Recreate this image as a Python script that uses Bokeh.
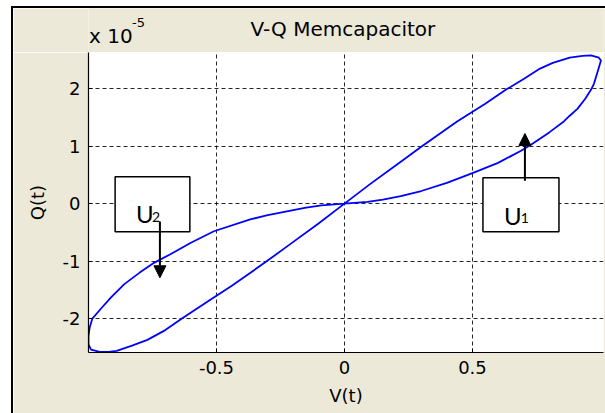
from bokeh.plotting import figure
from bokeh.layouts import column
from bokeh.models import FixedTicker, Arrow, NormalHead, Range1d
from bokeh.core.properties import value
from bokeh.embed import file_html
from bokeh.resources import INLINE

# Memcapacitor V-Q trajectory, charge in units of 1e-5
v_loop = [0.00, 0.10, 0.22, 0.30, 0.44, 0.55, 0.63, 0.70, 0.764, 0.814, 0.88, 0.93, 0.963,
          0.994, 1.002, 0.994, 0.975, 0.963, 0.94, 0.91, 0.88, 0.857, 0.80, 0.73, 0.69, 0.60, 0.50,
          0.40, 0.30, 0.22, 0.15, 0.09, 0.00,
          -0.09, -0.15, -0.22, -0.30, -0.365, -0.51, -0.60, -0.68, -0.744, -0.80, -0.86,
          -0.912, -0.95, -0.985, -0.995, -1.00, -1.00, -0.99, -0.96, -0.92,
          -0.89, -0.83, -0.77, -0.70, -0.635, -0.53, -0.44, -0.30, -0.22, -0.10, 0.00]
q_loop = [0.00, 0.34, 0.73, 0.99, 1.43, 1.74, 1.98, 2.17, 2.35, 2.45, 2.54, 2.57, 2.58,
          2.54, 2.49, 2.37, 2.09, 1.98, 1.82, 1.65, 1.53, 1.43, 1.24, 1.03, 0.92, 0.71, 0.53,
          0.36, 0.22, 0.13, 0.07, 0.03, 0.00,
          -0.03, -0.07, -0.13, -0.20, -0.27, -0.48, -0.68, -0.88, -1.03, -1.20, -1.40,
          -1.63, -1.82, -2.00, -2.15, -2.30, -2.45, -2.54, -2.575, -2.58,
          -2.56, -2.47, -2.37, -2.20, -2.00, -1.69, -1.43, -0.99, -0.73, -0.34, 0.00]

x_ticks = [-0.5, 0.0, 0.5]
x_tick_labels = ["-0.5", "0", "0.5"]
y_ticks = [-2, -1, 0, 1, 2]
y_tick_labels = ["-2", "-1", "0", "1", "2"]

FONT = "DejaVu Sans"
BEIGE = "#ECE9D8"
x_range = Range1d(-1.0, 1.012)

# header strip (title and axis multiplier), frame aligned with the plot below
head = figure(width=592, height=44, x_range=x_range, y_range=Range1d(0, 44),
              output_backend="svg", toolbar_location=None, title_location=None,
              x_axis_location=None, y_axis_location=None,
              min_border_left=75, min_border_right=2, min_border_top=0, min_border_bottom=0)
head.grid.visible = False
head.outline_line_color = None
head.background_fill_color = BEIGE
head.border_fill_color = BEIGE
head.text(x=[-0.006], y=[24], text=["V-Q Memcapacitor"], text_font=value(FONT),
          text_font_size="20px", text_align="center", text_baseline="alphabetic", text_color="black")
head.text(x=[-0.998], y=[17], text=["x 10"], text_font=value(FONT),
          text_font_size="20px", text_align="left", text_baseline="alphabetic", text_color="black")
head.text(x=[-0.83], y=[30], text=["-5"], text_font=value(FONT),
          text_font_size="13px", text_align="left", text_baseline="alphabetic", text_color="black")

p = figure(width=592, height=361, x_range=x_range, y_range=Range1d(-2.59, 2.63),
           output_backend="svg", toolbar_location=None, title_location=None,
           min_border_left=75, min_border_right=2, min_border_top=0, min_border_bottom=61)
p.border_fill_color = BEIGE
p.background_fill_color = "white"
p.outline_line_color = None

for ax in (p.xaxis[0], p.yaxis[0]):
    ax.axis_line_color = "black"
    ax.axis_line_width = 1.2
    ax.major_tick_in = 4
    ax.major_tick_out = 0
    ax.minor_tick_line_color = None
    ax.major_tick_line_color = "black"
    ax.major_label_text_font = FONT
    ax.major_label_text_font_size = "18px"
    ax.major_label_text_color = "black"
    ax.axis_label_text_font = FONT
    ax.axis_label_text_font_size = "18px"
    ax.axis_label_text_font_style = "normal"
    ax.axis_label_text_color = "black"
    ax.major_label_standoff = 8

p.xaxis.ticker = FixedTicker(ticks=x_ticks)
p.xaxis.major_label_overrides = dict(zip(x_ticks, x_tick_labels))
p.yaxis.ticker = FixedTicker(ticks=y_ticks)
p.yaxis.major_label_overrides = dict(zip(y_ticks, y_tick_labels))
p.xaxis.axis_label = "V(t)"
p.yaxis.axis_label = "Q(t)"
p.xaxis.axis_label_standoff = 8
p.yaxis.axis_label_standoff = 12

p.grid.grid_line_color = "black"
p.grid.grid_line_dash = "4 3"
p.grid.grid_line_width = 1
p.grid.grid_line_alpha = 0.85

# trajectory
p.line(v_loop, q_loop, line_color="#0000FF", line_width=1.8, line_join="round")

# U1 / U2 callouts
p.quad(left=[-0.896, 0.541], right=[-0.604, 0.838], top=[0.47, 0.45], bottom=[-0.49, -0.49],
       fill_color="white", line_color="black", line_width=1.5)
arrow_head = dict(size=12, fill_color="black", line_color="black")
p.add_layout(Arrow(end=NormalHead(**arrow_head), x_start=-0.721, y_start=-0.31, x_end=-0.721, y_end=-1.29,
                   line_color="black", line_width=2))
p.add_layout(Arrow(end=NormalHead(**arrow_head), x_start=0.705, y_start=0.40, x_end=0.705, y_end=1.22,
                   line_color="black", line_width=2))

p.text(x=[-0.814, 0.623], y=[-0.174, -0.209], text=["U", "U"], text_font=value("Lato"),
       text_font_size="24px", text_align="left", text_baseline="alphabetic", text_color="black")
p.text(x=[-0.752, 0.689], y=[-0.235, -0.243], text=["2", "1"], text_font=value("Lato"),
       text_font_size="14px", text_align="left", text_baseline="alphabetic", text_color="black")

layout = column(head, p, spacing=0)
layout.margin = (6, 0, 0, 11)
layout.styles = {"border-left": "2px solid black", "border-top": "2px solid black"}

open("out.html", "w").write(file_html(layout, INLINE))
